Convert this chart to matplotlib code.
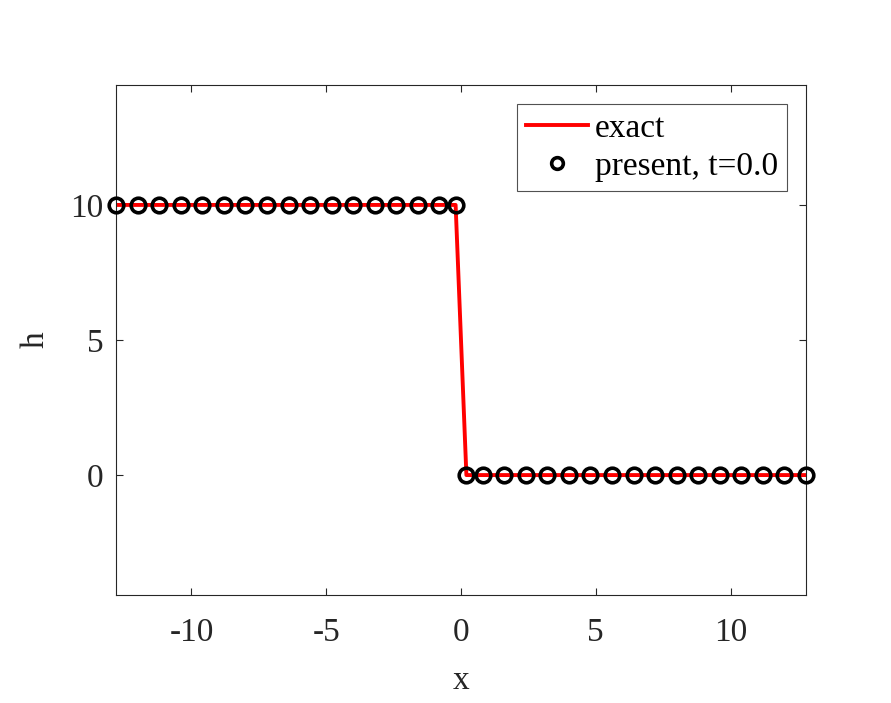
import matplotlib
matplotlib.use("Agg")
import matplotlib.pyplot as plt
import numpy as np

# exact solution (dam-break initial step)
exact_x = [-12.8, -0.2, 0.2, 12.8]
exact_h = [10.0, 10.0, 0.0, 0.0]

# present scheme samples at t = 0.0
present_x = [-12.8, -12.0, -11.2, -10.4, -9.6, -8.8, -8.0, -7.2, -6.4, -5.6,
             -4.8, -4.0, -3.2, -2.4, -1.6, -0.8, -0.2,
             0.2, 0.8, 1.6, 2.4, 3.2, 4.0, 4.8, 5.6, 6.4, 7.2, 8.0, 8.8,
             9.6, 10.4, 11.2, 12.0, 12.8]
present_h = [10.0] * 17 + [0.0] * 17

xticks = [-10, -5, 0, 5, 10]
yticks = [0, 5, 10]
xlim = (-12.8, 12.8)
ylim = (-4.44, 14.44)

plt.rcParams['font.family'] = ['Liberation Serif', 'DejaVu Serif']
plt.rcParams['mathtext.fontset'] = 'stix'

dark = '#262626'
fig = plt.figure(figsize=(8.91, 7.03), dpi=100)
ax = fig.add_axes([116/891, (703-595)/703, (806-116)/891, (595-85)/703])

ax.plot(exact_x, exact_h, color='red', lw=2.8, label='exact', zorder=2)
ax.plot(present_x, present_h, linestyle='none', marker='o', markersize=10.5,
        markerfacecolor='none', markeredgecolor='black', markeredgewidth=2.6,
        label='present, t=0.0', zorder=3, clip_on=False)

ax.set_xlim(*xlim)
ax.set_ylim(*ylim)
ax.set_xticks(xticks)
ax.set_yticks(yticks)
ax.set_xticklabels([str(v) for v in xticks])
ax.set_yticklabels([str(v) for v in yticks])

for s in ax.spines.values():
    s.set_color(dark)
    s.set_linewidth(0.8)

ax.tick_params(axis='both', which='both', direction='in', length=5, width=0.8,
               color=dark, labelcolor=dark, labelsize=24,
               top=True, right=True)
ax.tick_params(axis='x', pad=16)
ax.tick_params(axis='y', pad=9)

ax.set_xlabel('x', fontsize=24, color=dark)
ax.set_ylabel('h', fontsize=24, color=dark)
ax.xaxis.set_label_coords(0.5, -0.138)
ax.yaxis.set_label_coords(-0.095, 0.5)

leg = ax.legend(loc='upper right', fontsize=24, frameon=True, fancybox=False,
                borderpad=0.28, handlelength=1.85, handletextpad=0.2,
                labelspacing=0.23, borderaxespad=0.57, markerscale=0.8)
leg.get_frame().set_edgecolor(dark)
leg.get_frame().set_linewidth(0.8)
for t in leg.get_texts():
    t.set_color('black')

fig.savefig('out.png', dpi=100, facecolor='white')
